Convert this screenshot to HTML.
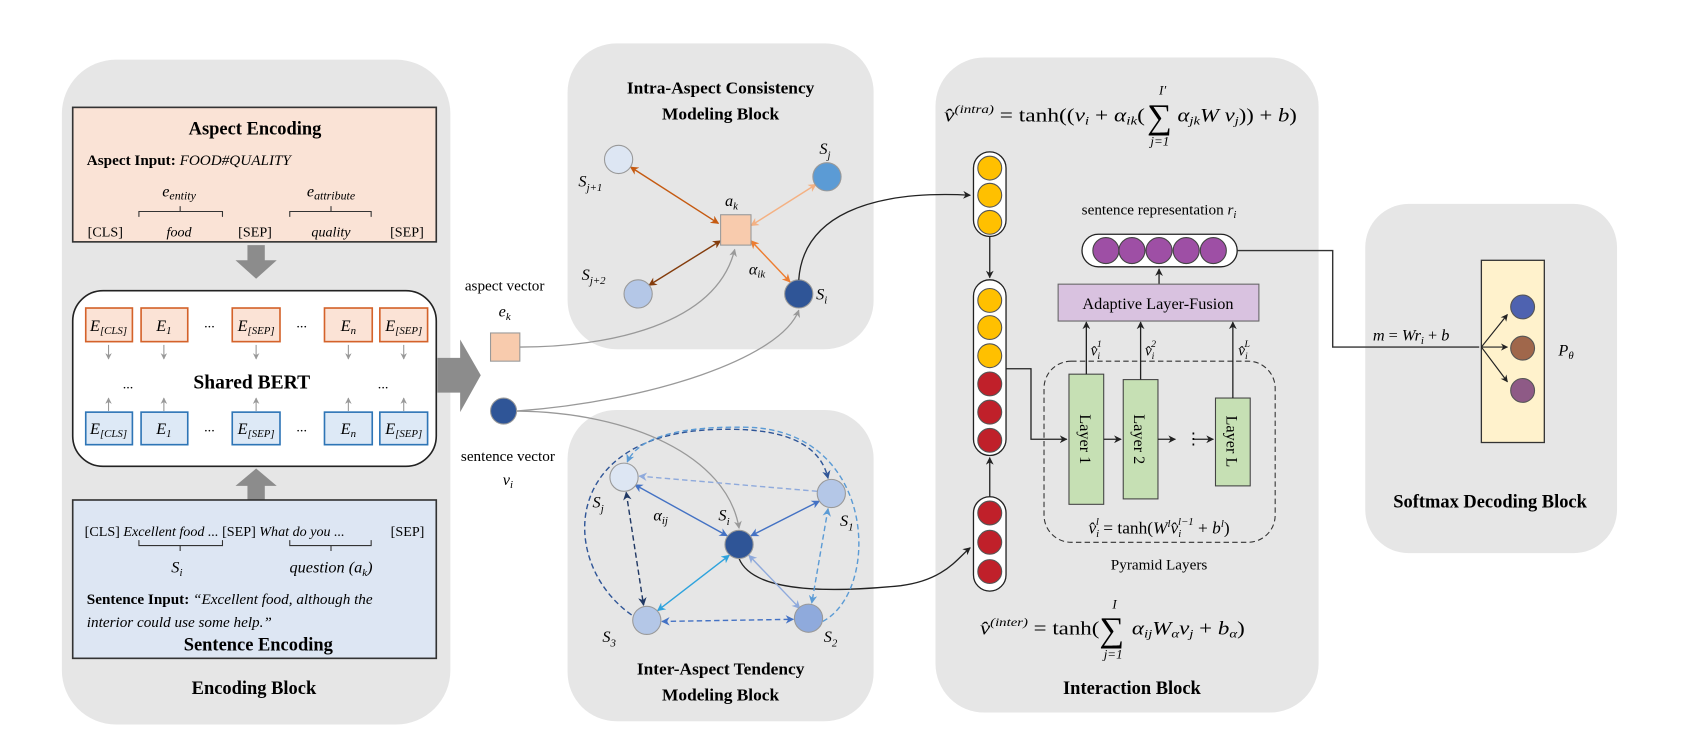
<!DOCTYPE html>
<html><head><meta charset="utf-8"><style>
html,body{margin:0;padding:0;background:#fff;}
svg{display:block;font-family:"Liberation Serif",serif;}
.b{font-weight:bold;}
.i{font-style:italic;}
</style></head><body>
<svg width="1693" height="731" viewBox="0 0 1560 674" preserveAspectRatio="none" xmlns="http://www.w3.org/2000/svg">
<defs>
<marker id="mk" viewBox="0 0 10 10" refX="9" refY="5" markerWidth="6" markerHeight="6" orient="auto-start-reverse"><path d="M0,0L10,5L0,10L3,5z" fill="#222"/></marker>
<marker id="mg" viewBox="0 0 10 10" refX="9" refY="5" markerWidth="6" markerHeight="6" orient="auto-start-reverse"><path d="M0,0L10,5L0,10L3,5z" fill="#999"/></marker>
<marker id="m1" viewBox="0 0 10 10" refX="9" refY="5" markerWidth="6" markerHeight="6" orient="auto-start-reverse"><path d="M0,0L10,5L0,10L3,5z" fill="#c55a11"/></marker>
<marker id="m2" viewBox="0 0 10 10" refX="9" refY="5" markerWidth="6" markerHeight="6" orient="auto-start-reverse"><path d="M0,0L10,5L0,10L3,5z" fill="#843c0c"/></marker>
<marker id="m3" viewBox="0 0 10 10" refX="9" refY="5" markerWidth="6" markerHeight="6" orient="auto-start-reverse"><path d="M0,0L10,5L0,10L3,5z" fill="#f4b183"/></marker>
<marker id="m4" viewBox="0 0 10 10" refX="9" refY="5" markerWidth="6" markerHeight="6" orient="auto-start-reverse"><path d="M0,0L10,5L0,10L3,5z" fill="#ed7d31"/></marker>
<marker id="b1" viewBox="0 0 10 10" refX="9" refY="5" markerWidth="6" markerHeight="6" orient="auto-start-reverse"><path d="M0,0L10,5L0,10L3,5z" fill="#4472c4"/></marker>
<marker id="b2" viewBox="0 0 10 10" refX="9" refY="5" markerWidth="6" markerHeight="6" orient="auto-start-reverse"><path d="M0,0L10,5L0,10L3,5z" fill="#2ea3dd"/></marker>
<marker id="b3" viewBox="0 0 10 10" refX="9" refY="5" markerWidth="6" markerHeight="6" orient="auto-start-reverse"><path d="M0,0L10,5L0,10L3,5z" fill="#8faadc"/></marker>
<marker id="b4" viewBox="0 0 10 10" refX="9" refY="5" markerWidth="6" markerHeight="6" orient="auto-start-reverse"><path d="M0,0L10,5L0,10L3,5z" fill="#203864"/></marker>
<marker id="b5" viewBox="0 0 10 10" refX="9" refY="5" markerWidth="6" markerHeight="6" orient="auto-start-reverse"><path d="M0,0L10,5L0,10L3,5z" fill="#5b9bd5"/></marker>
<marker id="b6" viewBox="0 0 10 10" refX="9" refY="5" markerWidth="6" markerHeight="6" orient="auto-start-reverse"><path d="M0,0L10,5L0,10L3,5z" fill="#2f5597"/></marker>
</defs>

<!-- backgrounds -->
<rect x="57" y="55" width="358" height="613" rx="50" fill="#e6e6e6"/>
<rect x="523" y="40" width="282" height="282" rx="45" fill="#e6e6e6"/>
<rect x="523" y="378" width="282" height="287" rx="45" fill="#e6e6e6"/>
<rect x="862" y="53" width="353" height="604" rx="45" fill="#e6e6e6"/>
<rect x="1258" y="188" width="232" height="322" rx="40" fill="#e6e6e6"/>

<!-- Aspect encoding -->
<rect x="67" y="99" width="335" height="124" fill="#fae3d6" stroke="#333" stroke-width="1.5"/>
<text x="235" y="124" text-anchor="middle" class="b" font-size="17">Aspect Encoding</text>
<text x="80" y="152" font-size="14"><tspan class="b">Aspect Input: </tspan><tspan class="i">FOOD#QUALITY</tspan></text>
<text x="165" y="181" text-anchor="middle" class="i" font-size="15">e<tspan font-size="11" dy="3">entity</tspan></text>
<text x="305" y="181" text-anchor="middle" class="i" font-size="15">e<tspan font-size="11" dy="3">attribute</tspan></text>
<path d="M128,200v-5h77v5M166,195v-5M267,200v-5h75v5M305,195v-5" fill="none" stroke="#333"/>
<g font-size="13" text-anchor="middle"><text x="97" y="218">[CLS]</text><text x="165" y="218" class="i">food</text><text x="235" y="218">[SEP]</text><text x="305" y="218" class="i">quality</text><text x="375" y="218">[SEP]</text></g>

<!-- arrows gray -->
<polygon points="228,226 244,226 244,240 255,240 236,257 217,240 228,240" fill="#8c8c8c"/>
<polygon points="228,461 244,461 244,448 255,448 236,432 217,448 228,448" fill="#8c8c8c"/>
<polygon points="403,330 424,330 424,313 443,346 424,380 424,362 403,362" fill="#8c8c8c"/>

<!-- BERT -->
<rect x="67" y="268" width="335" height="162" rx="28" fill="#fff" stroke="#222" stroke-width="1.5"/>
<g stroke="#d4622a" stroke-width="1.5" fill="#fbe3d6">
<rect x="79" y="284" width="43" height="31"/><rect x="130" y="284" width="43" height="31"/><rect x="214" y="284" width="44" height="31"/><rect x="299" y="284" width="44" height="31"/><rect x="350" y="284" width="44" height="31"/></g>
<g stroke="#2e75b6" stroke-width="1.5" fill="#dde9f6">
<rect x="79" y="380" width="43" height="30"/><rect x="130" y="380" width="43" height="30"/><rect x="214" y="380" width="44" height="30"/><rect x="299" y="380" width="44" height="30"/><rect x="350" y="380" width="44" height="30"/></g>
<g class="i" font-size="15" text-anchor="middle">
<text x="100" y="305">E<tspan font-size="10" dy="3">[CLS]</tspan></text><text x="151" y="305">E<tspan font-size="10" dy="3">1</tspan></text><text x="236" y="305">E<tspan font-size="10" dy="3">[SEP]</tspan></text><text x="321" y="305">E<tspan font-size="10" dy="3">n</tspan></text><text x="372" y="305">E<tspan font-size="10" dy="3">[SEP]</tspan></text>
<text x="100" y="400">E<tspan font-size="10" dy="3">[CLS]</tspan></text><text x="151" y="400">E<tspan font-size="10" dy="3">1</tspan></text><text x="236" y="400">E<tspan font-size="10" dy="3">[SEP]</tspan></text><text x="321" y="400">E<tspan font-size="10" dy="3">n</tspan></text><text x="372" y="400">E<tspan font-size="10" dy="3">[SEP]</tspan></text></g>
<g font-size="13" text-anchor="middle"><text x="193" y="302">...</text><text x="278" y="302">...</text><text x="193" y="398">...</text><text x="278" y="398">...</text><text x="118" y="358">...</text><text x="353" y="358">...</text></g>
<text x="232" y="358" text-anchor="middle" class="b" font-size="18">Shared BERT</text>
<g stroke="#999" fill="none" marker-end="url(#mg)">
<path d="M100,318v13"/><path d="M151,318v13"/><path d="M236,318v13"/><path d="M321,318v13"/><path d="M372,318v13"/>
<path d="M100,379v-12"/><path d="M151,379v-12"/><path d="M236,379v-12"/><path d="M321,379v-12"/><path d="M372,379v-12"/></g>

<!-- Sentence encoding -->
<rect x="67" y="461" width="335" height="146" fill="#dde6f3" stroke="#333" stroke-width="1.5"/>
<g font-size="13"><text x="78" y="494">[CLS] <tspan class="i">Excellent food ...</tspan> [SEP] <tspan class="i">What do you ...</tspan></text><text x="360" y="494">[SEP]</text></g>
<path d="M128,498v5h77v-5M166,503v5M267,498v5h75v-5M305,503v5" fill="none" stroke="#333"/>
<text x="163" y="528" text-anchor="middle" class="i" font-size="15">S<tspan font-size="10" dy="3">i</tspan></text>
<text x="305" y="528" text-anchor="middle" class="i" font-size="15">question (a<tspan font-size="10" dy="3">k</tspan><tspan dy="-3">)</tspan></text>
<text x="80" y="557" font-size="14"><tspan class="b">Sentence Input: </tspan><tspan class="i">“Excellent food, although the</tspan></text>
<text x="80" y="578" font-size="14" class="i">interior could use some help.”</text>
<text x="238" y="600" text-anchor="middle" class="b" font-size="17">Sentence Encoding</text>
<text x="234" y="640" text-anchor="middle" class="b" font-size="17">Encoding Block</text>

<!-- vectors -->
<text x="465" y="268" text-anchor="middle" font-size="14">aspect vector</text>
<text x="465" y="292" text-anchor="middle" class="i" font-size="15">e<tspan font-size="10" dy="3">k</tspan></text>
<rect x="452" y="307" width="27" height="26" fill="#f8cbad" stroke="#999"/>
<circle cx="464" cy="379" r="12" fill="#2f5597" stroke="#999"/>
<text x="468" y="425" text-anchor="middle" font-size="14">sentence vector</text>
<text x="468" y="447" text-anchor="middle" class="i" font-size="15">v<tspan font-size="10" dy="3">i</tspan></text>

<!-- Intra -->
<text x="664" y="86" text-anchor="middle" class="b" font-size="16">Intra-Aspect Consistency</text>
<text x="664" y="110" text-anchor="middle" class="b" font-size="16">Modeling Block</text>
<g stroke-width="1.3" fill="none">
<path d="M581,154L662,206" stroke="#c55a11" marker-start="url(#m1)" marker-end="url(#m1)"/>
<path d="M598,263L664,222" stroke="#843c0c" marker-start="url(#m2)" marker-end="url(#m2)"/>
<path d="M752,170L692,208" stroke="#f4b183" marker-start="url(#m3)" marker-end="url(#m3)"/>
<path d="M692,222L728,260" stroke="#ed7d31" marker-start="url(#m4)" marker-end="url(#m4)"/>
</g>
<circle cx="570" cy="147" r="13" fill="#dde6f3" stroke="#999"/>
<circle cx="762" cy="163" r="13" fill="#5b9bd5" stroke="#999"/>
<circle cx="588" cy="271" r="13" fill="#b4c7e7" stroke="#999"/>
<rect x="664" y="198" width="28" height="28" fill="#f8cbad" stroke="#999"/>
<circle cx="736" cy="271" r="13" fill="#2f5597" stroke="#999"/>
<g class="i" font-size="15">
<text x="533" y="172">S<tspan font-size="10" dy="4">j+1</tspan></text>
<text x="755" y="142">S<tspan font-size="10" dy="4">j</tspan></text>
<text x="536" y="258">S<tspan font-size="10" dy="4">j+2</tspan></text>
<text x="668" y="190">a<tspan font-size="10" dy="3">k</tspan></text>
<text x="690" y="253">α<tspan font-size="10" dy="3">ik</tspan></text>
<text x="752" y="276">S<tspan font-size="10" dy="4">i</tspan></text></g>

<!-- connectors -->
<g fill="none" stroke-width="1.2">
<path d="M479,320C560,320 660,300 677,230" stroke="#999" marker-end="url(#mg)"/>
<path d="M476,379C600,370 720,330 736,286" stroke="#999" marker-end="url(#mg)"/>
<path d="M476,379C580,380 670,420 681,487" stroke="#999" marker-end="url(#mg)"/>
<path d="M736,258C740,200 800,175 894,180" stroke="#222" marker-end="url(#mk)"/>
<path d="M681,515C695,550 780,545 830,540C870,535 882,515 894,505" stroke="#222" marker-end="url(#mk)"/>
</g>

<!-- Inter -->
<g stroke-width="1.3" fill="none">
<path d="M585,447L670,494" stroke="#4472c4" marker-start="url(#b1)" marker-end="url(#b1)"/>
<path d="M755,462L692,494" stroke="#4472c4" marker-start="url(#b1)" marker-end="url(#b1)"/>
<path d="M606,563L672,512" stroke="#2ea3dd" marker-start="url(#b2)" marker-end="url(#b2)"/>
<path d="M690,512L737,561" stroke="#8faadc" marker-start="url(#b3)" marker-end="url(#b3)"/>
<g stroke-dasharray="5,3">
<path d="M753,453L589,439" stroke="#8faadc" marker-end="url(#b3)"/>
<path d="M577,454L593,558" stroke="#203864" marker-start="url(#b4)" marker-end="url(#b4)"/>
<path d="M610,573L731,571" stroke="#4472c4" marker-start="url(#b1)" marker-end="url(#b1)"/>
<path d="M763,469L748,556" stroke="#5b9bd5" marker-start="url(#b5)" marker-end="url(#b5)"/>
<path d="M582,567C515,520 515,400 660,396C740,393 758,420 763,441" stroke="#2f5597" marker-end="url(#b6)"/>
<path d="M758,573C812,545 808,398 690,394C610,392 585,410 578,426" stroke="#5b9bd5" marker-end="url(#b5)"/>
</g></g>
<circle cx="575" cy="440" r="13" fill="#dde6f3" stroke="#999"/>
<circle cx="766" cy="455" r="13" fill="#b4c7e7" stroke="#999"/>
<circle cx="681" cy="502" r="13" fill="#2f5597" stroke="#999"/>
<circle cx="596" cy="572" r="13" fill="#b4c7e7" stroke="#999"/>
<circle cx="745" cy="570" r="13" fill="#8faadc" stroke="#999"/>
<g class="i" font-size="15">
<text x="546" y="468">S<tspan font-size="10" dy="4">j</tspan></text>
<text x="602" y="480">α<tspan font-size="10" dy="3">ij</tspan></text>
<text x="662" y="480">S<tspan font-size="10" dy="4">i</tspan></text>
<text x="774" y="485">S<tspan font-size="10" dy="4">1</tspan></text>
<text x="555" y="592">S<tspan font-size="10" dy="4">3</tspan></text>
<text x="759" y="592">S<tspan font-size="10" dy="4">2</tspan></text></g>
<text x="664" y="622" text-anchor="middle" class="b" font-size="16">Inter-Aspect Tendency</text>
<text x="664" y="646" text-anchor="middle" class="b" font-size="16">Modeling Block</text>

<!-- Interaction formulas -->
<g class="i" font-size="17">
<text x="870" y="112" textLength="185" lengthAdjust="spacingAndGlyphs">v̂<tspan font-size="11" dy="-8">(intra)</tspan><tspan dy="8" font-style="normal"> = tanh((</tspan>v<tspan font-size="11" dy="3">i</tspan><tspan dy="-3" font-style="normal"> + </tspan>α<tspan font-size="11" dy="3">ik</tspan><tspan dy="-3" font-style="normal">(</tspan></text>
<text x="1057" y="118" font-size="32" font-style="normal">∑</text>
<text x="1085" y="112" textLength="110" lengthAdjust="spacingAndGlyphs">α<tspan font-size="11" dy="3">jk</tspan><tspan dy="-3">W v</tspan><tspan font-size="11" dy="3">j</tspan><tspan dy="-3" font-style="normal">)) + </tspan>b<tspan font-style="normal">)</tspan></text>
<text x="1068" y="87" font-size="12">I′</text>
<text x="1060" y="134" font-size="12">j=1</text>

<text x="903" y="585" textLength="110" lengthAdjust="spacingAndGlyphs">v̂<tspan font-size="11" dy="-8">(inter)</tspan><tspan dy="8" font-style="normal"> = tanh(</tspan></text>
<text x="1013" y="591" font-size="32" font-style="normal">∑</text>
<text x="1043" y="585" textLength="104" lengthAdjust="spacingAndGlyphs">α<tspan font-size="11" dy="3">ij</tspan><tspan dy="-3">W</tspan><tspan font-size="11" dy="3">α</tspan><tspan dy="-3">v</tspan><tspan font-size="11" dy="3">j</tspan><tspan dy="-3" font-style="normal"> + </tspan>b<tspan font-size="11" dy="3">α</tspan><tspan dy="-3" font-style="normal">)</tspan></text>
<text x="1025" y="561" font-size="12">I</text>
<text x="1017" y="607" font-size="12">j=1</text></g>

<g stroke="#222" fill="none" stroke-width="1.2">
<rect x="897" y="140" width="30" height="78" rx="15" fill="#fff"/>
<rect x="897" y="258" width="30" height="162" rx="15" fill="#fff"/>
<rect x="897" y="458" width="30" height="87" rx="15" fill="#fff"/>
<path d="M912,218V256" marker-end="url(#mk)"/>
<path d="M912,458V422" marker-end="url(#mk)"/>
<path d="M927,340H950V405H983" marker-end="url(#mk)"/>
</g>
<g stroke="#555" fill="#ffc000"><circle cx="912" cy="155" r="11"/><circle cx="912" cy="180" r="11"/><circle cx="912" cy="205" r="11"/>
<circle cx="912" cy="277" r="11"/><circle cx="912" cy="302" r="11"/><circle cx="912" cy="328" r="11"/></g>
<g stroke="#555" fill="#c0202a"><circle cx="912" cy="354" r="11"/><circle cx="912" cy="380" r="11"/><circle cx="912" cy="406" r="11"/>
<circle cx="912" cy="473" r="11"/><circle cx="912" cy="500" r="11"/><circle cx="912" cy="527" r="11"/></g>

<rect x="962" y="333" width="213" height="167" rx="25" fill="none" stroke="#333" stroke-dasharray="5,3"/>
<g fill="#c6e0b4" stroke="#444"><rect x="985" y="345" width="32" height="120"/><rect x="1035" y="350" width="32" height="110"/><rect x="1120" y="367" width="32" height="81"/></g>
<g font-size="15" text-anchor="middle"><text transform="translate(995,405) rotate(90)">Layer 1</text><text transform="translate(1045,405) rotate(90)">Layer 2</text><text transform="translate(1130,407) rotate(90)">Layer L</text></g>
<g stroke="#222" fill="none" stroke-width="1.2">
<path d="M1017,405H1033" marker-end="url(#mk)"/><path d="M1067,405H1083" marker-end="url(#mk)"/><path d="M1100,405H1118" marker-end="url(#mk)"/>
<path d="M1001,345V297" marker-end="url(#mk)"/><path d="M1051,350V297" marker-end="url(#mk)"/><path d="M1136,367V297" marker-end="url(#mk)"/>
<path d="M1068,262V248" marker-end="url(#mk)"/>
</g>
<text x="1092" y="410" font-size="15">⋮</text>
<g class="i" font-size="14"><text x="1005" y="328">v̂<tspan font-size="9" dy="3">i</tspan><tspan font-size="9" dx="-3" dy="-11">1</tspan></text>
<text x="1055" y="328">v̂<tspan font-size="9" dy="3">i</tspan><tspan font-size="9" dx="-3" dy="-11">2</tspan></text>
<text x="1141" y="328">v̂<tspan font-size="9" dy="3">i</tspan><tspan font-size="9" dx="-3" dy="-11">L</tspan></text></g>
<rect x="975" y="262" width="185" height="34" fill="#d9c2e0" stroke="#666"/>
<text x="1067" y="285" text-anchor="middle" font-size="15">Adaptive Layer-Fusion</text>
<rect x="997" y="216" width="143" height="30" rx="15" fill="#fff" stroke="#222" stroke-width="1.2"/>
<g fill="#9e4fa5" stroke="#444"><circle cx="1019" cy="231" r="12"/><circle cx="1043" cy="231" r="12"/><circle cx="1068" cy="231" r="12"/><circle cx="1093" cy="231" r="12"/><circle cx="1118" cy="231" r="12"/></g>
<text x="1068" y="198" text-anchor="middle" font-size="14">sentence representation <tspan class="i">r<tspan font-size="10" dy="3">i</tspan></tspan></text>
<text x="1068" y="492" text-anchor="middle" font-size="16"><tspan class="i">v̂</tspan><tspan font-size="10" dy="3" class="i">i</tspan><tspan font-size="10" dx="-3" dy="-11" class="i">l</tspan><tspan dy="8"> = tanh(</tspan><tspan class="i">W</tspan><tspan font-size="10" dy="-6" class="i">l</tspan><tspan class="i" dy="6">v̂</tspan><tspan font-size="10" dy="3" class="i">i</tspan><tspan font-size="10" dx="-3" dy="-11" class="i">l−1</tspan><tspan dy="8"> + </tspan><tspan class="i">b</tspan><tspan font-size="10" dy="-6" class="i">l</tspan><tspan dy="6">)</tspan></text>
<text x="1068" y="525" text-anchor="middle" font-size="14">Pyramid Layers</text>
<text x="1043" y="640" text-anchor="middle" class="b" font-size="17">Interaction Block</text>

<!-- Softmax -->
<path d="M1140,231H1228V320H1363" fill="none" stroke="#333" stroke-width="1.3"/>
<text x="1265" y="314" class="i" font-size="15">m<tspan font-style="normal"> = </tspan>Wr<tspan font-size="10" dy="3">i</tspan><tspan dy="-3" font-style="normal"> + </tspan>b</text>
<rect x="1365" y="240" width="58" height="168" fill="#fff2cc" stroke="#333" stroke-width="1.2"/>
<g stroke="#222" fill="none" stroke-width="1.1">
<path d="M1365,320L1389,290" marker-end="url(#mk)"/><path d="M1365,320H1389" marker-end="url(#mk)"/><path d="M1365,320L1389,352" marker-end="url(#mk)"/></g>
<circle cx="1403" cy="283" r="11" fill="#4e62b0" stroke="#555"/>
<circle cx="1403" cy="321" r="11" fill="#a0674b" stroke="#555"/>
<circle cx="1403" cy="360" r="11" fill="#8e5a86" stroke="#555"/>
<text x="1436" y="328" class="i" font-size="15">P<tspan font-size="10" dy="3">θ</tspan></text>
<text x="1373" y="468" text-anchor="middle" class="b" font-size="17">Softmax Decoding Block</text>
</svg>
</body></html>
